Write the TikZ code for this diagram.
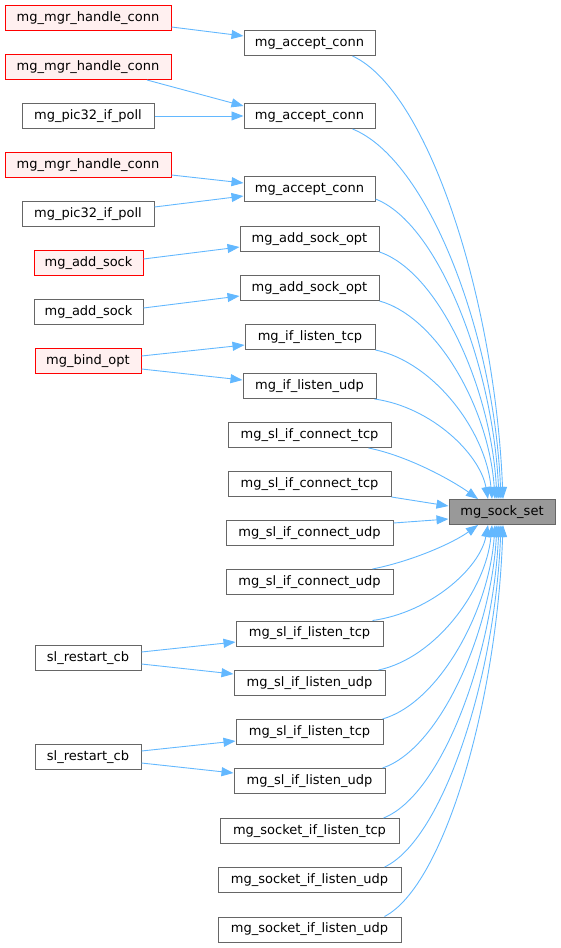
\documentclass[tikz,border=0pt]{standalone}
\usepackage{fontspec}
\setmainfont{DejaVu Sans}
\usetikzlibrary{arrows.meta,calc}
\definecolor{edgec}{HTML}{63B8FF}
\definecolor{bordc}{HTML}{666666}
\definecolor{redfill}{HTML}{FFF0F0}
\definecolor{tgtfill}{HTML}{999999}
\begin{document}
\begin{tikzpicture}[x=1pt,y=-1pt,
 fn/.style={draw=bordc, fill=white, line width=1pt, minimum height=25, inner sep=0, font=\fontsize{13}{15}\selectfont},
 redn/.style={fn, draw=red, fill=redfill},
 tgt/.style={fn, fill=tgtfill},
 edge/.style={draw=edgec, line width=0.9pt, -{Triangle[length=12pt,width=9pt]}}]
\useasboundingbox (0,0) rectangle (561,948);
% left column
\node[redn, minimum width=166] (l1) at (88,18) {mg\_mgr\_handle\_conn};
\node[redn, minimum width=166] (l2) at (88,67) {mg\_mgr\_handle\_conn};
\node[fn, minimum width=132] (l3) at (88,116) {mg\_pic32\_if\_poll};
\node[redn, minimum width=166] (l4) at (88,165) {mg\_mgr\_handle\_conn};
\node[fn, minimum width=132] (l5) at (88,214) {mg\_pic32\_if\_poll};
\node[redn, minimum width=109] (l6) at (88.5,263) {mg\_add\_sock};
\node[fn, minimum width=109] (l7) at (88.5,312) {mg\_add\_sock};
\node[redn, minimum width=106] (l8) at (88,361) {mg\_bind\_opt};
\node[fn, minimum width=106] (l9) at (88,658) {sl\_restart\_cb};
\node[fn, minimum width=106] (l10) at (88,757) {sl\_restart\_cb};
% middle column
\node[fn, minimum width=131] (m1) at (309.5,43) {mg\_accept\_conn};
\node[fn, minimum width=131] (m2) at (309.5,116) {mg\_accept\_conn};
\node[fn, minimum width=131] (m3) at (309.5,189) {mg\_accept\_conn};
\node[fn, minimum width=139] (m4) at (309.5,239) {mg\_add\_sock\_opt};
\node[fn, minimum width=139] (m5) at (309.5,288) {mg\_add\_sock\_opt};
\node[fn, minimum width=130] (m6) at (310,337) {mg\_if\_listen\_tcp};
\node[fn, minimum width=133] (m7) at (309.5,386) {mg\_if\_listen\_udp};
\node[fn, minimum width=163] (m8) at (309.5,435) {mg\_sl\_if\_connect\_tcp};
\node[fn, minimum width=163] (m9) at (309.5,484) {mg\_sl\_if\_connect\_tcp};
\node[fn, minimum width=167] (m10) at (309.5,533) {mg\_sl\_if\_connect\_udp};
\node[fn, minimum width=167] (m11) at (309.5,582) {mg\_sl\_if\_connect\_udp};
\node[fn, minimum width=147] (m12) at (309.5,633.5) {mg\_sl\_if\_listen\_tcp};
\node[fn, minimum width=151] (m13) at (309.5,683) {mg\_sl\_if\_listen\_udp};
\node[fn, minimum width=147] (m14) at (309.5,732) {mg\_sl\_if\_listen\_tcp};
\node[fn, minimum width=151] (m15) at (309.5,781) {mg\_sl\_if\_listen\_udp};
\node[fn, minimum width=179] (m16) at (309.5,831) {mg\_socket\_if\_listen\_tcp};
\node[fn, minimum width=183] (m17) at (309.5,880) {mg\_socket\_if\_listen\_udp};
\node[fn, minimum width=183] (m18) at (309.5,929.5) {mg\_socket\_if\_listen\_udp};
% target
\node[tgt, minimum width=106] (t) at (502,512) {mg\_sock\_set};
% left -> middle
\draw[edge] ($(l1.east)+(0,9)$) -- ($(m1.west)+(0,-7)$);
\draw[edge] ($(l2.south)+(59,0)$) -- ($(m2.west)+(0,-10)$);
\draw[edge] (l3.east) -- (m2.west);
\draw[edge] ($(l4.east)+(0,10)$) -- ($(m3.west)+(0,-6)$);
\draw[edge] ($(l5.east)+(0,-7)$) -- ($(m3.west)+(0,7)$);
\draw[edge] ($(l6.east)+(0,-4)$) -- ($(m4.west)+(0,8)$);
\draw[edge] ($(l7.east)+(0,-4)$) -- ($(m5.west)+(0,8)$);
\draw[edge] ($(l8.east)+(0,-5)$) -- ($(m6.west)+(0,8)$);
\draw[edge] ($(l8.east)+(0,8)$) -- ($(m7.west)+(0,-6)$);
\draw[edge] ($(l9.east)+(0,-6)$) -- ($(m12.west)+(0,8.5)$);
\draw[edge] ($(l9.east)+(0,6)$) -- ($(m13.west)+(0,-9)$);
\draw[edge] ($(l10.east)+(0,-6)$) -- ($(m14.west)+(0,9)$);
\draw[edge] ($(l10.east)+(0,6)$) -- ($(m15.west)+(0,-8)$);
% middle -> target (upper)
\draw[edge] ($(m1.south east)+(-23,0)$) .. controls +(76,35) and +(-8,-199) .. ($(t.north)+(1,0)$);
\draw[edge] ($(m2.south east)+(-23,0)$) .. controls +(75,30) and +(-7,-167) .. ($(t.north)+(-1,0)$);
\draw[edge] ($(m3.south east)+(0,-3)$) .. controls +(62,24) and +(-6,-135) .. ($(t.north)+(-3,0)$);
\draw[edge] (m4.south east) .. controls +(59,20) and +(-6,-112) .. ($(t.north)+(-5,0)$);
\draw[edge] (m5.south east) .. controls +(58,16) and +(-6,-90) .. ($(t.north)+(-7,0)$);
\draw[edge] (m6.south east) .. controls +(58,12) and +(-6,-68) .. ($(t.north)+(-10,0)$);
\draw[edge] ($(m7.south east)+(-2,0)$) .. controls +(57,8) and +(-8,-45) .. ($(t.north)+(-14,0)$);
\draw[edge] ($(m8.south east)+(-23,0)$) .. controls +(40,8) and +(-25,-18) .. ($(t.north)+(-24,0)$);
% straight
\draw[edge] (m9.south east) -- ($(t.west)+(0,-6)$);
\draw[edge] ($(m10.north east)+(0,3)$) -- ($(t.west)+(0,7)$);
% lower
\draw[edge] ($(m11.north east)+(-21,0)$) .. controls +(40,-8) and +(-25,18) .. ($(t.south)+(-24,0)$);
\draw[edge] ($(m12.north east)+(-11,0)$) .. controls +(58,-8) and +(-8,43) .. ($(t.south)+(-14,0)$);
\draw[edge] ($(m13.north east)+(-7,0)$) .. controls +(57,-12) and +(-6,65) .. ($(t.south)+(-10,0)$);
\draw[edge] ($(m14.north east)+(-1,0)$) .. controls +(56,-16) and +(-6,87) .. ($(t.south)+(-7,0)$);
\draw[edge] ($(m15.north east)+(-3,0)$) .. controls +(57,-19) and +(-6,109) .. ($(t.south)+(-5,0)$);
\draw[edge] ($(m16.north east)+(-16,0)$) .. controls +(58,-23) and +(-6,132) .. ($(t.south)+(-3,0)$);
\draw[edge] ($(m17.north east)+(-17,0)$) .. controls +(58,-27) and +(-6,154) .. ($(t.south)+(-1,0)$);
\draw[edge] ($(m18.north east)+(-17,0)$) .. controls +(60,-31) and +(-6,176) .. ($(t.south)+(1,0)$);
\end{tikzpicture}
\end{document}
